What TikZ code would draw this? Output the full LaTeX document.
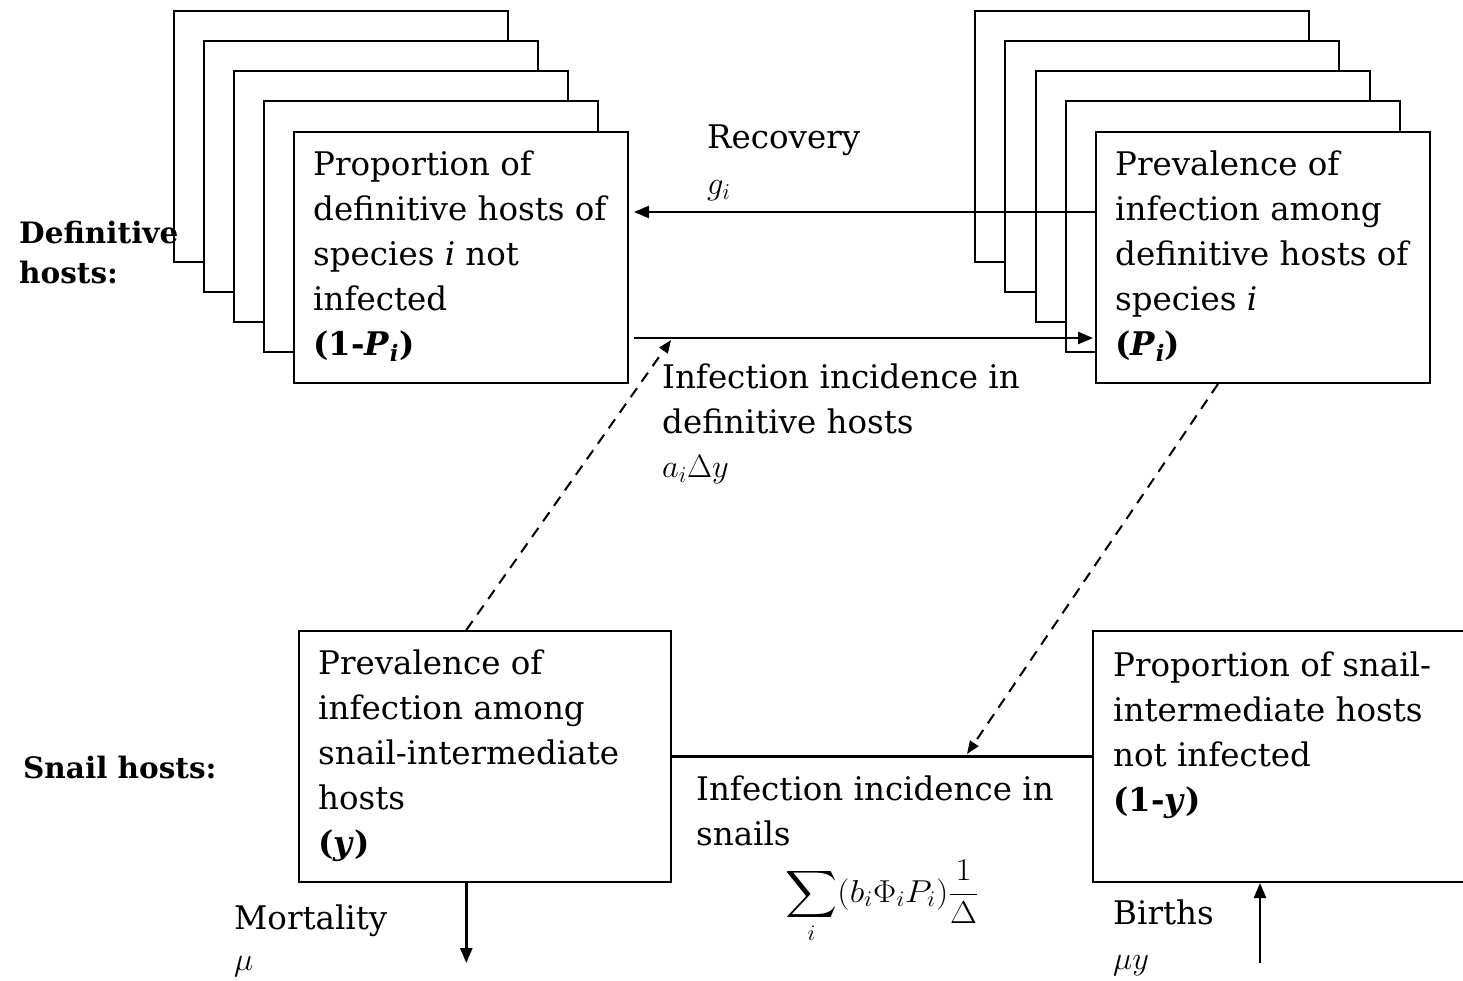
\RequirePackage{fix-cm}
\documentclass[tikz,border=0pt]{standalone}
\usepackage{amsmath}
\usepackage{fontspec}
\setmainfont{DejaVu Serif}
\usetikzlibrary{arrows.meta,calc}

\newcommand{\boxfont}{\fontsize{32.5}{45}\selectfont}
\newcommand{\labfont}{\fontsize{29.5}{40}\selectfont\bfseries}
\newcommand{\subi}{\textsubscript{\textit{i}}}

\tikzset{
  card/.style={draw, line width=2pt, fill=white, minimum width=334pt,
    minimum height=251pt, anchor=north west, inner sep=0pt},
  boxtext/.style={anchor=north west, inner sep=0pt, align=left, font=\boxfont},
  sidelabel/.style={anchor=north west, inner sep=0pt, align=left, font=\labfont},
  flow/.style={line width=2.4pt, -{Triangle[length=15pt,width=12pt]}},
  plain/.style={line width=2.4pt},
  influence/.style={line width=2pt, dash pattern=on 11pt off 8pt,
    -{Triangle[length=13pt,width=10pt]}},
}

\begin{document}
\begin{tikzpicture}[x=1pt,y=-1pt]
\useasboundingbox (0,0) rectangle (1463,980);
\clip (0,0) rectangle (1463,980);

% stack of definitive-host species, not infected
\node[card] (L1) at (173,10) {};
\node[card] (L2) at (203,40) {};
\node[card] (L3) at (233,70) {};
\node[card] (L4) at (263,100) {};
\node[card] (L5) at (293,131) {};

% stack of definitive-host species, infected
\node[card] (R1) at (974,10) {};
\node[card] (R2) at (1004,40) {};
\node[card] (R3) at (1035,70) {};
\node[card] (R4) at (1065,100) {};
\node[card] (R5) at (1095,131) {};

% snail compartments
\node[card, minimum width=372pt] (S1) at (298,630) {};
\node[card, minimum width=400pt] (S2) at (1092,630) {};

% compartment texts
\node[boxtext] (L5t) at (313,151) {Proportion of\\definitive hosts of\\species \textit{i} not\\infected\\\textbf{(1-\textit{P}\subi)}};
\node[boxtext] (R5t) at (1115,151) {Prevalence of\\infection among\\definitive hosts of\\species \textit{i}\\\textbf{(\textit{P}\subi)}};
\node[boxtext] (S1t) at (318,650) {Prevalence of\\infection among\\snail-intermediate\\hosts\\\textbf{(\textit{y})}};
\node[boxtext] (S2t) at (1113,652) {Proportion of snail-\\intermediate hosts\\not infected\\\textbf{(1-\textit{y})}};

% row labels
\node[sidelabel] (defl) at (19,221) {Definitive\\hosts:};
\node[sidelabel] (snl) at (23,756) {Snail hosts:};

% transitions between definitive-host compartments
\coordinate (recY) at (0,212);
\coordinate (infY) at (0,338);
\draw[flow, shorten >=5pt] (R5.west |- recY) -- (L5.east |- recY);
\draw[flow, shorten <=5pt, shorten >=2pt] (L5.east |- infY) -- (R5.west |- infY);

\node[boxtext] (rec) at (707,125) {Recovery\\[1pt]$g_i$};
\node[boxtext] (inc) at (662,364) {Infection incidence in\\definitive hosts\\[-1pt]$a_i\Delta y$};

% snail line between compartments
\draw[plain] (S1.east) -- (S2.west);
\node[boxtext] (sinc) at (696,776) {Infection incidence in\\snails};
\node[inner sep=0pt, font=\fontsize{24}{28}\selectfont] (form) at (882,902)
  {\scalebox{1.45}[1.32]{$\displaystyle\sum_i (b_i\Phi_i P_i)\frac{1}{\Delta}$}};

% influences of prevalence on incidence
\coordinate (tipA) at (671,340);
\coordinate (tipB) at (967,754);
\draw[influence] ($(S1.north west)!0.45!(S1.north east)$) -- (tipA);
\draw[influence] ($(R5.south west)!0.366!(R5.south east)$) -- (tipB);

% mortality and births
\coordinate (mortStart) at ($(S1.south west)!0.45!(S1.south east)$);
\coordinate (lowY) at (0,963);
\coordinate (birthStart) at (1260,963);
\draw[flow] (mortStart) -- (mortStart |- lowY);
\draw[flow] (birthStart) -- (birthStart |- S2.south);

\node[boxtext] (mort) at (234,905) {Mortality\\[-4pt]$\mu$};
\node[boxtext] (birth) at (1113,900) {Births\\$\mu y$};
\end{tikzpicture}
\end{document}
